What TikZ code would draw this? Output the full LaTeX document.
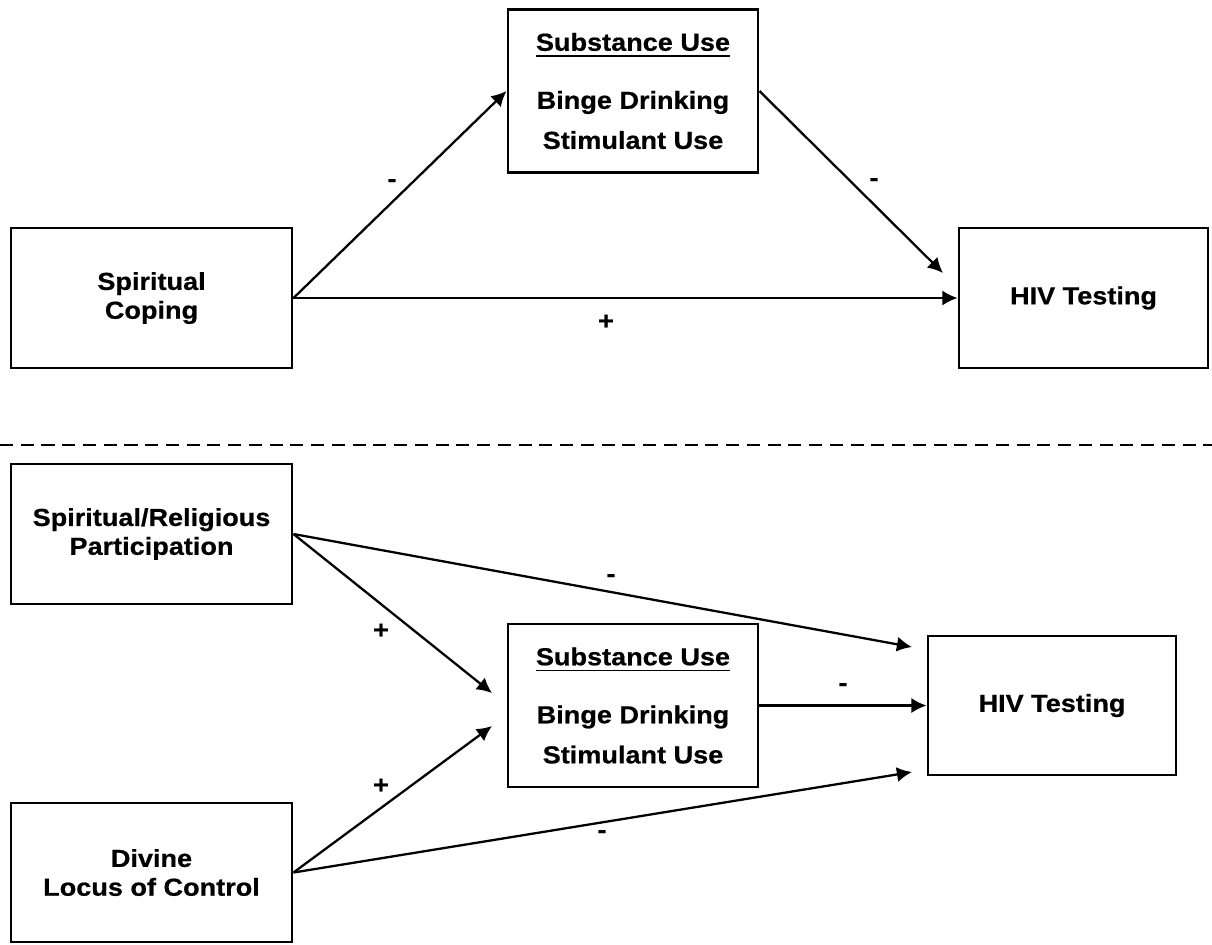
\documentclass[tikz,border=0pt]{standalone}
\usepackage{fontspec}
\setmainfont{Liberation Sans}[FakeStretch=1.1, BoldFeatures={FakeBold=0.6}]
\usetikzlibrary{arrows.meta}

\begin{document}
\begin{tikzpicture}[x=0.01cm, y=-0.01cm, box/.style = {shape=rectangle, draw, line width=0.8pt, align=center, fill=white, minimum width=2.81cm, minimum height=1.4cm, inner sep=0pt, font=\fontsize{7}{8.2}\selectfont\bfseries}, subbox/.style = {box, minimum width=2.5cm, minimum height=1.63cm}, outbox/.style = {box, minimum width=2.49cm}, arr/.style = {-{Latex[length=4.3pt,width=4.3pt]}, line width=0.65pt}, sign/.style = {inner sep=0pt, font=\fontsize{7}{8.2}\selectfont\bfseries}]
				\useasboundingbox (0,0) rectangle (1212,944);
				% upper model
				\node[subbox] (subtop) at (633,91) {\underline{Substance Use}\\[8.3pt]Binge Drinking\\[3.2pt]Stimulant Use};
				\node[box] (coping) at (151.5,298) {Spiritual\\Coping};
				\node[outbox] (hivtop) at (1083.5,298) {HIV Testing};
				\coordinate (tiptop) at (943,273);
				\draw[arr] (coping.east) -- (subtop.west);
				\draw[arr] (coping.east) -- (hivtop.west);
				\draw[arr] (subtop.east) -- (tiptop);
				\node[sign] (mtopa) at (392,183) {-};
				\node[sign] (mtopb) at (874,182) {-};
				\node[sign] (ptop) at (606,322) {+};
				% separator
				\draw[line width=0.6pt, dash pattern=on 3.7pt off 2.2pt] (0,445) -- (1212,445);
				% lower model
				\node[box] (partic) at (151.5,534) {Spiritual/Religious\\Participation};
				\node[subbox] (subbot) at (633,705.5) {\underline{Substance Use}\\[8.3pt]Binge Drinking\\[3.2pt]Stimulant Use};
				\node[outbox, minimum width=2.48cm, minimum height=1.39cm] (hivbot) at (1052,705.5) {HIV Testing};
				\node[box, minimum height=1.39cm] (divine) at (151.5,872.5) {Divine\\Locus of Control};
				\coordinate (tipsuba) at (492,693);
				\coordinate (tipsubb) at (492,726);
				\coordinate (tiphiva) at (912,647);
				\coordinate (tiphivb) at (912,772);
				\draw[arr] (partic.east) -- (tipsuba);
				\draw[arr] (partic.east) -- (tiphiva);
				\draw[arr] (divine.east) -- (tipsubb);
				\draw[arr] (divine.east) -- (tiphivb);
				\draw[arr] (subbot.east) -- (hivbot.west);
				\node[sign] (mbota) at (611,578) {-};
				\node[sign] (pbota) at (381,631) {+};
				\node[sign] (mbotb) at (843,687) {-};
				\node[sign] (pbotb) at (381,786) {+};
				\node[sign] (mbotc) at (602,834) {-};
			\end{tikzpicture}
\end{document}
